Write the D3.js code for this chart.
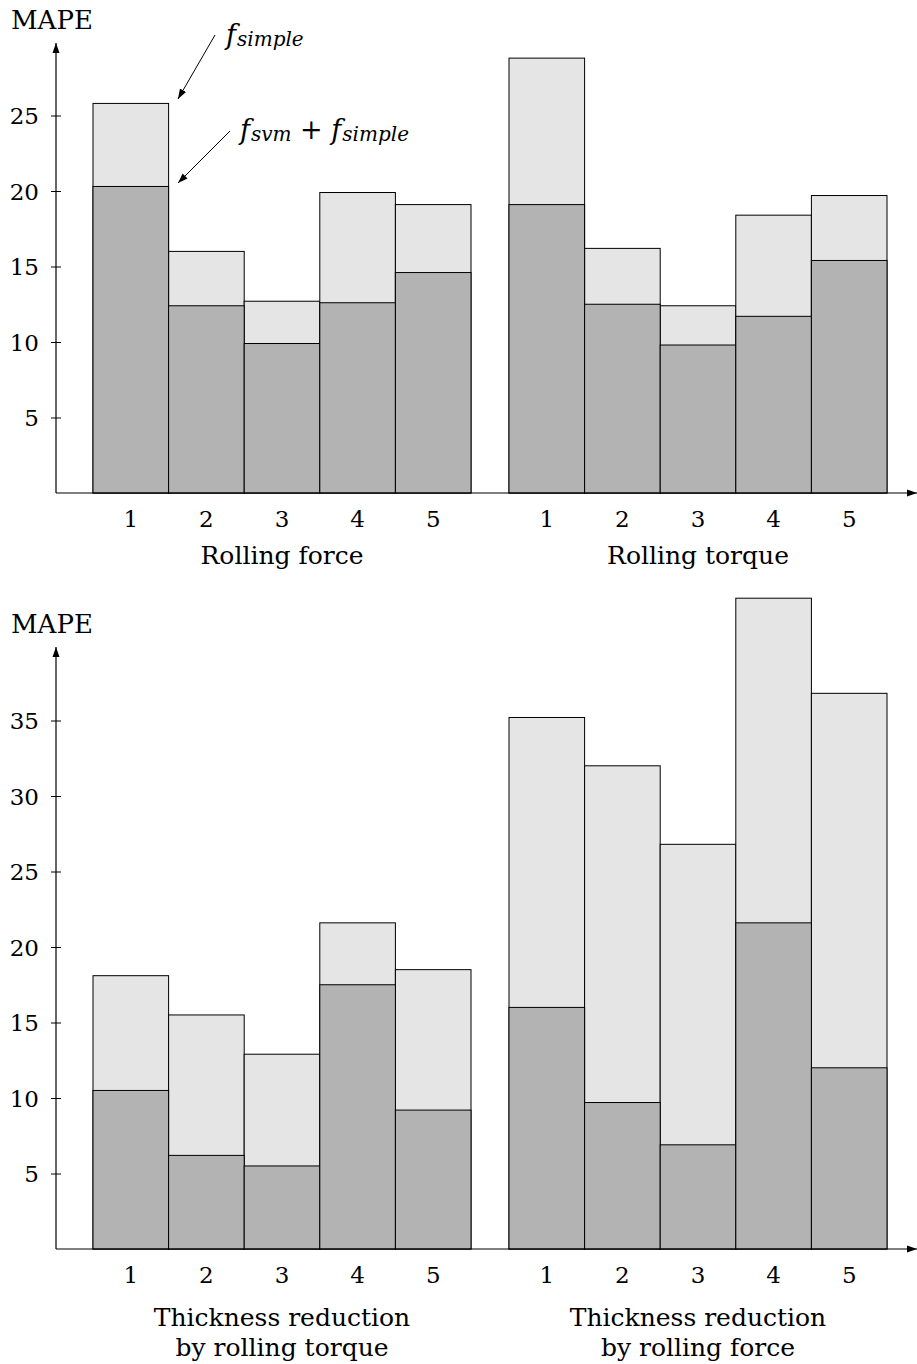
<!DOCTYPE html>
<html><head><meta charset="utf-8">
<script src="https://cdn.jsdelivr.net/npm/d3@7"></script>
<style>body{margin:0;background:#fff}svg text{font-family:"DejaVu Serif",serif;fill:#000}</style>
</head><body><svg id="c" width="917" height="1364"></svg>
<script>
const runs = ["1","2","3","4","5"];
const topGroups = ["Rolling force","Rolling torque"];
const bottomGroups = ["Thickness reduction\nby rolling torque","Thickness reduction\nby rolling force"];
const topSimple = [[25.8,16.0,12.7,19.9,19.1],[28.8,16.2,12.4,18.4,19.7]];
const topSvm = [[20.3,12.4,9.9,12.6,14.6],[19.1,12.5,9.8,11.7,15.4]];
const botSimple = [[18.1,15.5,12.9,21.6,18.5],[35.2,32.0,26.8,43.1,36.8]];
const botSvm = [[10.5,6.2,5.5,17.5,9.2],[16.0,9.7,6.9,21.6,12.0]];
const topTicks = [5,10,15,20,25];
const botTicks = [5,10,15,20,25,30,35];

const FS = 23, LFS = 25;
const svg = d3.select("#c");
const defs = svg.append("defs");
defs.append("marker").attr("id","ah").attr("viewBox","0 0 10 10").attr("refX",10).attr("refY",5)
 .attr("markerWidth",10).attr("markerHeight",10).attr("markerUnits","userSpaceOnUse").attr("orient","auto")
 .append("path").attr("d","M0,1.5L10,5L0,8.5Z").attr("fill","#000");

function panel(base, yTopArrow, groups, simple, svm, ticks, labelY){
  const g = svg.append("g");
  const y = d3.scaleLinear().domain([0,10]).range([base, base-151]);
  const gx = d3.scaleBand().domain(groups).range([93,887]).paddingInner(38/416);
  const ix = d3.scaleBand().domain(runs).range([0,gx.bandwidth()]);
  groups.forEach((grp,gi)=>{
    const gg = g.append("g").attr("transform",`translate(${gx(grp)},0)`);
    gg.selectAll("rect.s").data(simple[gi]).join("rect").attr("class","s")
      .attr("x",(d,i)=>ix(runs[i])).attr("width",ix.bandwidth())
      .attr("y",d=>y(d)).attr("height",d=>base-y(d))
      .attr("fill","#e5e5e5").attr("stroke","#000").attr("stroke-width",1);
    gg.selectAll("rect.v").data(svm[gi]).join("rect").attr("class","v")
      .attr("x",(d,i)=>ix(runs[i])).attr("width",ix.bandwidth())
      .attr("y",d=>y(d)).attr("height",d=>base-y(d))
      .attr("fill","#b3b3b3").attr("stroke","#000").attr("stroke-width",1);
    gg.selectAll("text.n").data(runs).join("text").attr("class","n")
      .attr("x",d=>ix(d)+ix.bandwidth()/2).attr("y",base+34)
      .attr("text-anchor","middle").attr("font-size",FS).text(d=>d);
    const lines = grp.split("\n");
    gg.append("text").attr("x",gx.bandwidth()/2).attr("y",labelY)
      .attr("text-anchor","middle").attr("font-size",LFS)
      .selectAll("tspan").data(lines).join("tspan")
      .attr("x",gx.bandwidth()/2).attr("dy",(d,i)=>i?30:0).text(d=>d);
  });
  g.append("line").attr("x1",56).attr("x2",917).attr("y1",base).attr("y2",base)
    .attr("stroke","#000").attr("stroke-width",1.2).attr("marker-end","url(#ah)");
  g.append("line").attr("x1",56).attr("x2",56).attr("y1",base).attr("y2",yTopArrow)
    .attr("stroke","#000").attr("stroke-width",1.2).attr("marker-end","url(#ah)");
  const ax = d3.axisLeft(y).tickValues(ticks).tickSize(0).tickPadding(0);
  const ag = g.append("g").attr("transform","translate(56,0)").call(ax);
  ag.attr("font-family",null);
  ag.select(".domain").remove();
  ag.selectAll(".tick line").remove();
  ag.selectAll(".tick").append("line").attr("x1",-5).attr("x2",5).attr("stroke","#000").attr("stroke-width",1);
  ag.selectAll(".tick text").attr("x",-17).attr("dy","0.36em").attr("font-size",FS).attr("fill","#000");
  g.append("text").attr("x",11).attr("y",yTopArrow-14).attr("font-size",26).text("MAPE");
  return y;
}
panel(493, 43, topGroups, topSimple, topSvm, topTicks, 564);
panel(1249, 647, bottomGroups, botSimple, botSvm, botTicks, 1326);

const ann = svg.append("g");
ann.append("line").attr("x1",215).attr("y1",35).attr("x2",178).attr("y2",99)
  .attr("stroke","#000").attr("stroke-width",1).attr("marker-end","url(#ah)");
ann.append("line").attr("x1",230).attr("y1",131).attr("x2",178).attr("y2",183)
  .attr("stroke","#000").attr("stroke-width",1).attr("marker-end","url(#ah)");
const t1 = ann.append("text").attr("x",226).attr("y",44).attr("font-size",27).attr("font-style","italic");
t1.append("tspan").text("f");
t1.append("tspan").attr("font-size",20).attr("dy",2).attr("dx",1).text("simple");
const t2 = ann.append("text").attr("x",240).attr("y",139).attr("font-size",27).attr("font-style","italic");
t2.append("tspan").text("f");
t2.append("tspan").attr("font-size",20).attr("dy",2).attr("dx",1).text("svm");
t2.append("tspan").attr("dy",-2).attr("font-style","normal").text(" + ");
t2.append("tspan").text("f");
t2.append("tspan").attr("font-size",20).attr("dy",2).attr("dx",1).text("simple");
</script></body></html>
